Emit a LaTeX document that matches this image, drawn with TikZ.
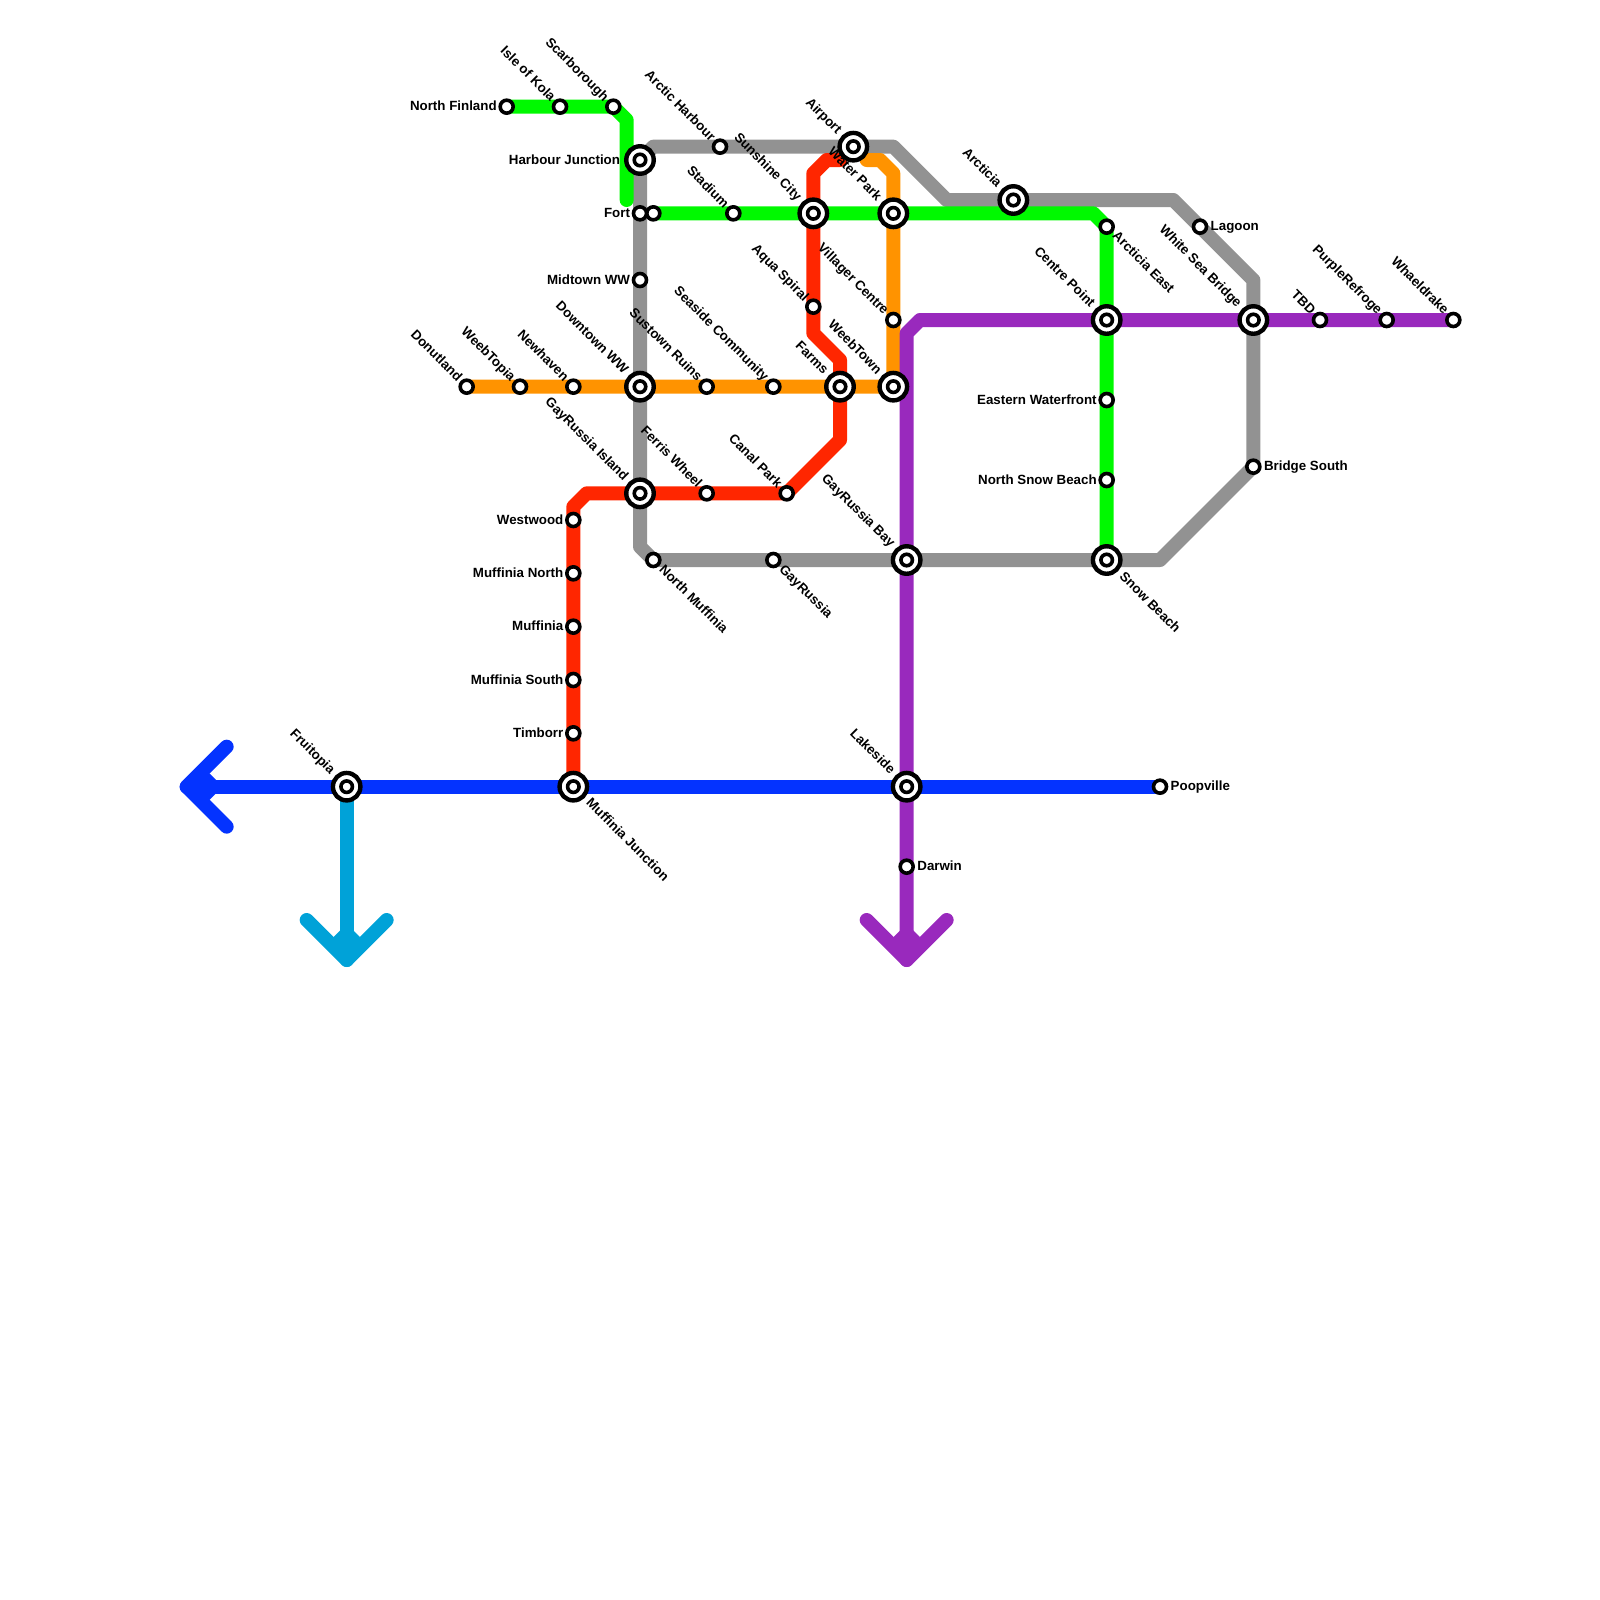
\documentclass[tikz,border=0pt]{standalone}
\usepackage{fontspec}
\setmainfont{Liberation Sans}
\pgfdeclarelayer{bg}
\pgfsetlayers{bg,main}
\definecolor{cgreen}{HTML}{00F900}
\definecolor{cgray}{HTML}{929292}
\definecolor{corange}{HTML}{FF9300}
\definecolor{cred}{HTML}{FF2600}
\definecolor{cblue}{HTML}{0433FF}
\definecolor{cpurple}{HTML}{9929BD}
\definecolor{ccyan}{HTML}{00A2D8}
\def\px{0.03cm}
\tikzset{
  route/.style={line width=0.42cm,line cap=round,line join=round},
  small/.style={circle,draw=black,fill=white,line width=3.6*\px,minimum size=13*\px,inner sep=0pt},
  bigring/.style={circle,draw=black,fill=white,line width=4.4*\px,minimum size=27.5*\px,inner sep=0pt},
  inring/.style={circle,draw=black,fill=white,line width=3.6*\px,minimum size=11.5*\px,inner sep=0pt},
  lbl/.style={font=\bfseries\fontsize{11.38}{14}\selectfont,inner sep=0pt,outer sep=0pt,text=black},
  lw/.style={lbl,anchor=base east,xshift=-10*\px,yshift=-4*\px},
  lwb/.style={lbl,anchor=base east,xshift=-20*\px,yshift=-4*\px},
  le/.style={lbl,anchor=base west,xshift=10.7*\px,yshift=-4*\px},
  lnw/.style={lbl,anchor=base east,xshift=-9.9*\px,yshift=4.8*\px,rotate=-45},
  lnwb/.style={lbl,anchor=base east,xshift=-16.9*\px,yshift=11.9*\px,rotate=-45},
  lse/.style={lbl,anchor=base west,xshift=5.3*\px,yshift=-10.3*\px,rotate=-45},
  lseb/.style={lbl,anchor=base west,xshift=12.3*\px,yshift=-17.3*\px,rotate=-45},
}
\newcommand{\stn}[3]{\node[small] (#1) at (#2,#3) {};}
\newcommand{\icg}[3]{\node[bigring] (#1) at (#2,#3) {};\node[inring] (#1-in) at (#1.center) {};}
\newcommand{\lab}[3]{\node[#2] (#1-l) at (#1.center) {#3};}
\begin{document}
\begin{tikzpicture}[x=0.4cm,y=-0.4cm]
\useasboundingbox (0,0) rectangle (120,120);
% stations
\stn{nfin}{38}{8}\stn{kola}{42}{8}\stn{scar}{46}{8}
\icg{harb}{48}{12}\stn{fort}{48}{16}\stn{forttwo}{49}{16}\stn{midt}{48}{21}
\stn{arch}{54}{11}\stn{stad}{55}{16}
\icg{airp}{64}{11}\icg{suns}{61}{16}\icg{watr}{67}{16}\icg{arct}{76}{15}
\stn{aqua}{61}{23}\stn{vill}{67}{24}\icg{farm}{63}{29}\icg{weet}{67}{29}
\stn{donu}{35}{29}\stn{weeb}{39}{29}\stn{newh}{43}{29}\icg{down}{48}{29}
\stn{sust}{53}{29}\stn{seas}{58}{29}
\stn{aeas}{83}{17}\icg{cent}{83}{24}\stn{east}{83}{30}\stn{nsno}{83}{36}\icg{snow}{83}{42}
\stn{lago}{90}{17}\icg{whit}{94}{24}\stn{brid}{94}{35}
\stn{tbd}{99}{24}\stn{purp}{104}{24}\stn{whae}{109}{24}
\icg{gayi}{48}{37}\stn{ferr}{53}{37}\stn{cana}{59}{37}
\stn{nmuf}{49}{42}\stn{gayr}{58}{42}\icg{gayb}{68}{42}
\stn{west}{43}{39}\stn{mnor}{43}{43}\stn{muff}{43}{47}\stn{msou}{43}{51}\stn{timb}{43}{55}
\icg{mjun}{43}{59}\icg{frui}{26}{59}\icg{lake}{68}{59}\stn{poop}{87}{59}\stn{darw}{68}{65}
% bend points
\coordinate (g1) at (47,9);\coordinate (g2) at (47,15);\coordinate (g3) at (82,16);
\coordinate (y1) at (49,11);\coordinate (y2) at (67,11);\coordinate (y3) at (71,15);
\coordinate (y4) at (88,15);\coordinate (y5) at (94,21);\coordinate (y6) at (87,42);\coordinate (y7) at (48,41);
\coordinate (r1) at (43,38);\coordinate (r2) at (44,37);\coordinate (r3) at (63,33);\coordinate (r4) at (63,27);
\coordinate (r5) at (61,25);\coordinate (r6) at (61,13);\coordinate (r7) at (62,12);\coordinate (r8) at (63,12);
\coordinate (o1) at (67,13);\coordinate (o2) at (66,12);\coordinate (o3) at (65,12);
\coordinate (p1) at (69,24);\coordinate (p2) at (68,25);\coordinate (p3) at (68,72);\coordinate (p4) at (65,69);\coordinate (p5) at (71,69);
\coordinate (b1) at (14,59);\coordinate (b2) at (17,56);\coordinate (b3) at (17,62);
\coordinate (c1) at (26,72);\coordinate (c2) at (23,69);\coordinate (c3) at (29,69);
% lines
\begin{pgfonlayer}{bg}
\draw[route,cgray] (harb.center) -- (y1) -- (arch.center) -- (airp.center) -- (y2) -- (y3) -- (arct.center) -- (y4) -- (lago.center) -- (y5) -- (whit.center) -- (brid.center) -- (y6) -- (snow.center) -- (gayb.center) -- (gayr.center) -- (nmuf.center) -- (y7) -- (gayi.center) -- (down.center) -- (midt.center) -- (fort.center) -- (harb.center);
\draw[route,corange] (donu.center) -- (weeb.center) -- (newh.center) -- (down.center) -- (sust.center) -- (seas.center) -- (farm.center) -- (weet.center) -- (vill.center) -- (watr.center) -- (o1) -- (o2) -- (o3);
\draw[route,cred] (mjun.center) -- (timb.center) -- (msou.center) -- (muff.center) -- (mnor.center) -- (west.center) -- (r1) -- (r2) -- (gayi.center) -- (ferr.center) -- (cana.center) -- (r3) -- (farm.center) -- (r4) -- (r5) -- (aqua.center) -- (suns.center) -- (r6) -- (r7) -- (r8);
\draw[route,cgreen] (nfin.center) -- (kola.center) -- (scar.center) -- (g1) -- (g2);
\draw[route,cgreen] (forttwo.center) -- (stad.center) -- (suns.center) -- (watr.center) -- (g3) -- (aeas.center) -- (cent.center) -- (east.center) -- (nsno.center) -- (snow.center);
\draw[route,ccyan] (frui.center) -- (c1);
\draw[route,ccyan] (c2) -- (c1) -- (c3);
\fill[ccyan] (c1) -- ++(-1,-1.71) -- ++(1,-1) -- ++(1,1) -- cycle;
\draw[route,cpurple] (whae.center) -- (purp.center) -- (tbd.center) -- (whit.center) -- (cent.center) -- (p1) -- (p2) -- (gayb.center) -- (lake.center) -- (darw.center) -- (p3);
\draw[route,cpurple] (p4) -- (p3) -- (p5);
\fill[cpurple] (p3) -- ++(-1,-1.71) -- ++(1,-1) -- ++(1,1) -- cycle;
\draw[route,cblue] (poop.center) -- (lake.center) -- (mjun.center) -- (frui.center) -- (b1);
\draw[route,cblue] (b2) -- (b1) -- (b3);
\fill[cblue] (b1) -- ++(1.71,-1) -- ++(1,1) -- ++(-1,1) -- cycle;
\end{pgfonlayer}
% labels
\lab{nfin}{lw}{North Finland}\lab{harb}{lwb}{Harbour Junction}\lab{fort}{lw}{Fort}\lab{midt}{lw}{Midtown WW}
\lab{west}{lw}{Westwood}\lab{mnor}{lw}{Muffinia North}\lab{muff}{lw}{Muffinia}\lab{msou}{lw}{Muffinia South}\lab{timb}{lw}{Timborr}
\lab{east}{lw}{Eastern Waterfront}\lab{nsno}{lw}{North Snow Beach}
\lab{lago}{le}{Lagoon}\lab{brid}{le}{Bridge South}\lab{poop}{le}{Poopville}\lab{darw}{le}{Darwin}
\lab{kola}{lnw}{Isle of Kola}\lab{scar}{lnw}{Scarborough}\lab{arch}{lnw}{Arctic Harbour}\lab{stad}{lnw}{Stadium}
\lab{aqua}{lnw}{Aqua Spiral}\lab{vill}{lnw}{Villager Centre}\lab{donu}{lnw}{Donutland}\lab{weeb}{lnw}{WeebTopia}\lab{newh}{lnw}{Newhaven}
\lab{sust}{lnw}{Sustown Ruins}\lab{seas}{lnw}{Seaside Community}\lab{ferr}{lnw}{Ferris Wheel}\lab{cana}{lnw}{Canal Park}
\lab{tbd}{lnw}{TBD}\lab{purp}{lnw}{PurpleRefroge}\lab{whae}{lnw}{Whaeldrake}
\lab{airp}{lnwb}{Airport}\lab{suns}{lnwb}{Sunshine City}\lab{watr}{lnwb}{Water Park}\lab{arct}{lnwb}{Arcticia}\lab{cent}{lnwb}{Centre Point}
\lab{whit}{lnwb}{White Sea Bridge}\lab{farm}{lnwb}{Farms}\lab{weet}{lnwb}{WeebTown}\lab{down}{lnwb}{Downtown WW}\lab{gayi}{lnwb}{GayRussia Island}
\lab{gayb}{lnwb}{GayRussia Bay}\lab{frui}{lnwb}{Fruitopia}\lab{lake}{lnwb}{Lakeside}
\lab{aeas}{lse}{Arcticia East}\lab{nmuf}{lse}{North Muffinia}\lab{gayr}{lse}{GayRussia}
\lab{snow}{lseb}{Snow Beach}\lab{mjun}{lseb}{Muffinia Junction}
\end{tikzpicture}
\end{document}
